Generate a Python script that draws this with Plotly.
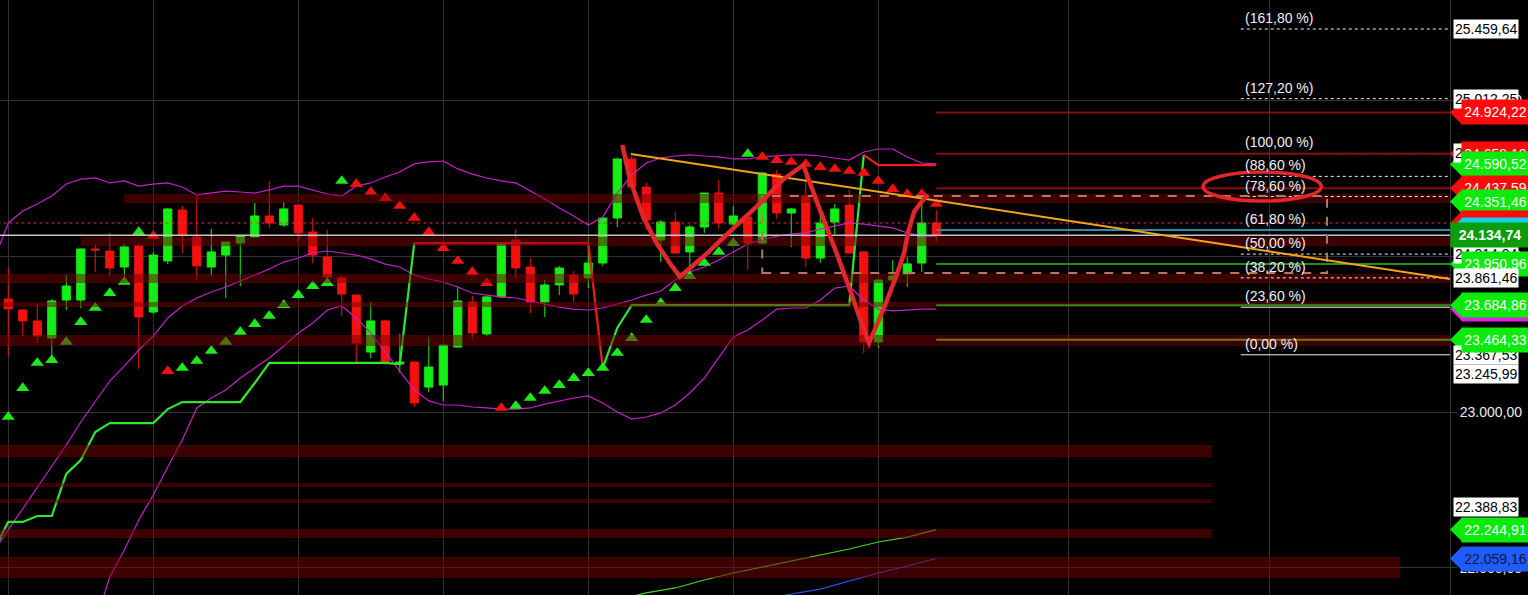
import plotly.graph_objects as go

# ---------------- data ----------------
CANDLE_X = list(range(65))
OPEN = [23726, 23655, 23585, 23475, 23719, 23719, 24047, 24034, 23931, 24066,
        23642, 23970, 24297, 24124, 23931, 24008, 24085, 24124, 24259, 24201,
        24329, 24156, 23995, 23861, 23751, 23385, 23585, 23308, 23321, 23160,
        23173, 23417, 23706, 23501, 23739, 24105, 23931, 23706, 23816, 23880,
        23861, 23957, 24246, 24625, 24445, 24105, 24220, 24028, 24188, 24406,
        24207, 24252, 24085, 24528, 24278, 24387, 23989, 24220, 24329, 24028,
        23450, 23848, 23886, 23957, 24214]
HIGH = [23925, 23660, 23700, 23726, 23880, 24050, 24079, 24150, 24079, 24079,
        24028, 24310, 24323, 24394, 24175, 24092, 24130, 24342, 24484, 24349,
        24335, 24246, 24169, 23873, 23755, 23707, 23590, 23501, 23325, 23482,
        23430, 23803, 23745, 23745, 24085, 24175, 23989, 23848, 23938, 23905,
        24124, 24246, 24631, 24644, 24471, 24233, 24284, 24201, 24406, 24490,
        24323, 24259, 24541, 24554, 24310, 24567, 24297, 24336, 24426, 24034,
        23848, 23976, 23995, 24361, 24297]
LOW = [23360, 23488, 23443, 23334, 23655, 23668, 23899, 23873, 23861, 23276,
       23630, 23950, 24021, 23841, 23873, 23732, 23809, 24124, 24182, 24188,
       24092, 23957, 23848, 23617, 23315, 23347, 23302, 23251, 23032, 23128,
       23071, 23417, 23469, 23488, 23732, 23854, 23636, 23610, 23751, 23706,
       23796, 23938, 24188, 24426, 24169, 23963, 24015, 23925, 24150, 24175,
       24201, 23918, 24079, 24239, 24060, 23931, 23957, 24143, 24015, 23379,
       23411, 23842, 23803, 23899, 24092]
CLOSE = [23662, 23585, 23488, 23713, 23809, 24047, 24040, 23925, 24060, 23610,
         24008, 24304, 24137, 23938, 24028, 24092, 24130, 24259, 24214, 24304,
         24150, 24008, 23867, 23758, 23443, 23585, 23315, 23321, 23058, 23289,
         23430, 23713, 23507, 23739, 24079, 23925, 23706, 23816, 23925, 23758,
         23957, 24246, 24625, 24445, 24233, 24220, 24021, 24188, 24406, 24214,
         24259, 24085, 24535, 24278, 24304, 23989, 24214, 24304, 24021, 23450,
         23848, 23873, 23951, 24214, 24134.74]

# indicator index axis (one bar before the first visible candle)
IND_X = list(range(-1, 65))
BB_UPPER = [23976, 24214, 24291, 24336, 24387, 24464, 24496, 24503, 24471, 24484, 24451,
            24464, 24471, 24445, 24394, 24406, 24419, 24413, 24406, 24426, 24451,
            24451, 24426, 24400, 24387, 24451, 24471, 24509, 24541, 24593, 24606,
            24612, 24561, 24528, 24503, 24484, 24471, 24419, 24368, 24310, 24259,
            24201, 24252, 24406, 24522, 24599, 24631, 24644, 24651, 24644, 24638,
            24625, 24625, 24638, 24644, 24651, 24651, 24644, 24631, 24618, 24670,
            24689, 24689, 24638, 24599, 24593]
BB_MID = [22107, 22242, 22384, 22512, 22653, 22788, 22936, 23064, 23199, 23295, 23398,
          23488, 23604, 23681, 23732, 23771, 23803, 23841, 23880, 23918, 23963,
          23989, 24021, 24034, 24021, 24008, 23983, 23950, 23931, 23880, 23854,
          23835, 23803, 23764, 23751, 23739, 23732, 23713, 23694, 23674, 23661,
          23655, 23668, 23694, 23719, 23751, 23777, 23848, 23899, 23931, 23976,
          24028, 24079, 24105, 24130, 24143, 24150, 24175, 24194, 24214, 24207,
          24194, 24182, 24150, 24130, 24130]
BB_LOW = [20412, 20573, 20752, 20919, 21106, 21279, 21472, 21651, 21940, 22114, 22306,
          22467, 22647, 22820, 23026, 23090, 23141, 23218, 23283, 23347, 23424,
          23507, 23572, 23655, 23681, 23604, 23507, 23385, 23270, 23141, 23071,
          23045, 23045, 23032, 23026, 23019, 23019, 23026, 23051, 23071, 23090,
          23103, 23058, 23000, 22955, 22968, 22994, 23045, 23122, 23218, 23347,
          23482, 23527, 23591, 23661, 23668, 23668, 23719, 23796, 23809, 23719,
          23661, 23649, 23655, 23661, 23661]

# trailing stop line, split by colour
STOP_G1_X = list(range(-1, 29))
STOP_G1 = [22114, 22294, 22294, 22332, 22332, 22602, 22692, 22872, 22929, 22929,
           22929, 22929, 23019, 23064, 23064, 23064, 23064, 23064, 23186, 23315,
           23315, 23315, 23315, 23315, 23315, 23315, 23315, 23315, 23308, 24085]
STOP_R1_X = list(range(28, 42))
STOP_R1 = [24085] * 13 + [23283]
STOP_G2_X = list(range(41, 60))
STOP_G2 = [23283, 23540, 23687, 23687, 23687, 23687, 23687, 23687, 23687, 23687,
           23687, 23687, 23687, 23687, 23687, 23687, 23687, 23687, 24651]
STOP_R2_X = list(range(59, 65))
STOP_R2 = [24651, 24586, 24586, 24586, 24586, 24586]

# parabolic SAR
SAR = [22968, 23154, 23315, 23334, 23450, 23578, 23668, 23764, 23835, 24156,
       24130, 23263, 23283, 23328, 23392, 23450, 23514, 23565, 23617, 23687,
       23751, 23809, 23828, 24484, 24464, 24413, 24374, 24323, 24246, 24156,
       24053, 23970, 23899, 23828, 23026, 23039, 23090, 23135, 23173, 23218,
       23250, 23283, 23379, 23475, 23591, 23700, 23796, 23873, 23957, 24028,
       24085, 24657, 24638, 24618, 24606, 24593, 24573, 24561, 24548, 24535,
       24484, 24432, 24400, 24400, 24336]
SAR_SIDE = "GGGGGGGGGGRRGGGGGGGGGGGGRRRRRRRRRRRGGGGGGGGGGGGGGGGGRRRRRRRRRRRRR"

# long moving averages
MA_G_X = [42, 44, 46, 48, 50, 52, 54, 56, 58, 60, 62, 64]
MA_G = [21793, 21838, 21870, 21921, 21966, 22005, 22043, 22082, 22120, 22165, 22197, 22244.91]
MA_B_X = [52, 54, 56, 58, 60, 62, 64]
MA_B = [21793, 21831, 21863, 21915, 21966, 22011, 22059.16]

# support / resistance zones: (low, high, from index, to index)
ZONES = [(24342, 24400, 8, 100), (24066, 24124, 5, 100), (23828, 23886, -1, 100),
         (23674, 23706, -1, 100), (23424, 23494, -1, 100), (22711, 22788, -1, 83),
         (22518, 22544, -1, 83), (22416, 22441, -1, 83), (22191, 22249, -1, 83),
         (21934, 22069, -1, 96)]

# horizontal levels drawn right of the last bar
LEVELS = [24924.22, 24658.10, 24437.59, 24168.80, 23950.96, 23684.86, 23464.33]
LEVEL_COLORS = ["#8c0d0d", "#8c0d0d", "#8c0d0d", "#2f8ca6", "#1f901f", "#2f8c1c", "#6f7a12"]
LAST_PRICE = 24134.74
RED_DOTTED = 24213.80

# Fibonacci
FIB_LABELS = ["(161,80 %)", "(127,20 %)", "(100,00 %)", "(88,60 %)", "(78,60 %)",
              "(61,80 %)", "(50,00 %)", "(38,20 %)", "(23,60 %)", "(0,00 %)"]
FIB_LEVELS = [25459.64, 25012.25, 24660.55, 24513.15, 24383.84, 24166.62,
              24014.04, 23861.46, 23672.68, 23367.53]
FIB_SOLID = [False, False, False, False, False, False, False, False, True, True]
FIB_START = 85.0

# drawings
TREND_X = [42.94, 99.43]
TREND_Y = [24657, 23854]
BOX = dict(x0=52, x1=90.95, y0=23893, y1=24387)
W_X = [42.35, 42.88, 43.79, 44.72, 45.63, 46.32, 47.93, 50.0, 51.84, 53.4, 54.83,
       55.98, 57.13, 58.05, 58.85, 59.36, 60.34, 61.27, 61.78, 62.07, 62.47, 63.08, 63.43]
W_Y = [24715, 24490, 24254, 24083, 23955, 23869, 23997, 24180, 24340, 24490, 24586,
       24297, 24019, 23783, 23570, 23443, 23655, 23880, 24021, 24158, 24286, 24362, 24394]
OVAL = dict(x0=82.4, x1=90.55, y0=24355, y1=24541)

# right-hand price tags (price, style), in drawing order
TAGS = [(25459.64, "white"), (25012.25, "white"), (24924.22, "red"), (24660.55, "white"),
        (24658.10, "red"), (24590.52, "green"), (24437.59, "red"), (24351.46, "green"),
        (24213.80, "red"), (24168.80, "cyan"), (24014.04, "white"), (24134.74, "last"),
        (23950.96, "green"), (23861.46, "white"), (23661.00, "magenta"), (23684.86, "green"),
        (23367.53, "white"), (23464.33, "green"), (23245.99, "white"), (22388.83, "white"),
        (22244.91, "green"), (22059.16, "blue")]

GRID_X = [0, 10, 20, 30, 40, 50, 60, 73.1, 87]
GRID_Y = [22000, 23000, 24000, 25000]

# ---------------- style ----------------
X_RANGE = [-0.57, 99.43]
Y_RANGE = [21824.8, 25645.9]
FIG_W, FIG_H = 1528, 595
PLOT_W = 1450
FONT = "Liberation Sans, Arial, sans-serif"
UPX = (Y_RANGE[1] - Y_RANGE[0]) / FIG_H  # price units per pixel
GREEN = "#14ee14"
RED = "#f51010"
TAG_COLORS = {"red": ("#ff0a0a", "#ffffff"), "green": ("#0bea0b", "#ffffff"),
              "cyan": ("#16d2ea", "#ffffff"), "magenta": ("#e022e0", "#ffffff"),
              "blue": ("#1e5cff", "#0b1540"), "last": ("#0b9c0b", "#ffffff")}


def fmt(v):
    s = f"{v:,.2f}"
    return s.replace(",", "X").replace(".", ",").replace("X", ".")


fig = go.Figure()

fig.add_trace(go.Candlestick(
    x=CANDLE_X, open=OPEN, high=HIGH, low=LOW, close=CLOSE,
    increasing=dict(line=dict(color=GREEN, width=1), fillcolor=GREEN),
    decreasing=dict(line=dict(color=RED, width=1), fillcolor=RED),
    whiskerwidth=0, hoverinfo="skip"))

for series in (BB_UPPER, BB_MID, BB_LOW):
    fig.add_trace(go.Scatter(x=IND_X, y=series, mode="lines",
                             line=dict(color="#c81ec8", width=1.2), hoverinfo="skip"))

for xs, ys, col in ((STOP_G1_X, STOP_G1, "#2ee82e"), (STOP_R1_X, STOP_R1, "#f01c1c"),
                    (STOP_G2_X, STOP_G2, "#2ee82e"), (STOP_R2_X, STOP_R2, "#f01c1c")):
    fig.add_trace(go.Scatter(x=xs, y=ys, mode="lines", line=dict(color=col, width=2.2),
                             hoverinfo="skip"))

fig.add_trace(go.Scatter(x=MA_G_X, y=MA_G, mode="lines", line=dict(color="#44d42a", width=1.2),
                         hoverinfo="skip"))
fig.add_trace(go.Scatter(x=MA_B_X, y=MA_B, mode="lines", line=dict(color="#3050f0", width=1.2),
                         hoverinfo="skip"))

for side, col in (("G", "#1ee81e"), ("R", "#f01010")):
    xs = [i for i, s in zip(CANDLE_X, SAR_SIDE) if s == side]
    ys = [v for v, s in zip(SAR, SAR_SIDE) if s == side]
    fig.add_trace(go.Scatter(x=xs, y=ys, mode="markers",
                             marker=dict(symbol="triangle-up", size=11.5, color=col,
                                         line=dict(width=0)), hoverinfo="skip"))

shapes = []
# zones (translucent, above the series)
for lo, hi, x0, x1 in ZONES:
    shapes.append(dict(type="rect", xref="x", yref="y", x0=x0, x1=x1, y0=lo, y1=hi,
                       fillcolor="rgba(122,0,0,0.5)", line=dict(width=0), layer="above"))
# fib lines
for lvl, solid in zip(FIB_LEVELS, FIB_SOLID):
    shapes.append(dict(type="line", xref="x", yref="y", x0=FIB_START, x1=X_RANGE[1] + 1,
                       y0=lvl, y1=lvl, layer="above",
                       line=dict(color="#f0f0f0", width=1, dash="solid" if solid else "dot")))
# full width lines
shapes.append(dict(type="line", xref="x", yref="y", x0=X_RANGE[0] - 1, x1=X_RANGE[1] + 1,
                   y0=RED_DOTTED, y1=RED_DOTTED, layer="above",
                   line=dict(color="#d83434", width=1, dash="dot")))
shapes.append(dict(type="line", xref="x", yref="y", x0=X_RANGE[0] - 1, x1=X_RANGE[1] + 1,
                   y0=LAST_PRICE, y1=LAST_PRICE, layer="above",
                   line=dict(color="#c4c4c4", width=1.5)))
# levels right of last bar
for lvl, col in zip(LEVELS, LEVEL_COLORS):
    shapes.append(dict(type="line", xref="x", yref="y", x0=CANDLE_X[-1], x1=X_RANGE[1] + 1,
                       y0=lvl, y1=lvl, layer="above", line=dict(color=col, width=2)))
# dashed box
shapes.append(dict(type="rect", xref="x", yref="y", layer="above", fillcolor="rgba(0,0,0,0)",
                   line=dict(color="#b27a5c", width=2, dash="dash"), **BOX))
# orange trend line
shapes.append(dict(type="line", xref="x", yref="y", x0=TREND_X[0], x1=TREND_X[1],
                   y0=TREND_Y[0], y1=TREND_Y[1], layer="above",
                   line=dict(color="#f4a41c", width=2)))
# hand drawn W and oval
w_path = "M " + " L ".join(f"{x},{y}" for x, y in zip(W_X, W_Y))
shapes.append(dict(type="path", xref="x", yref="y", path=w_path, layer="above",
                   line=dict(color="#e2262a", width=4.5)))
shapes.append(dict(type="circle", xref="x", yref="y", layer="above",
                   line=dict(color="#e2262a", width=3.5), **OVAL))

annotations = []
for lbl, lvl in zip(FIB_LABELS, FIB_LEVELS):
    annotations.append(dict(x=FIB_START + 0.15, y=lvl, xref="x", yref="y", text=lbl,
                            showarrow=False, xanchor="left", yanchor="middle", yshift=11,
                            font=dict(family=FONT, size=14, color="#f0f0f0")))

tip = 1 + 12 / PLOT_W
for price, kind in TAGS:
    if kind == "white":
        annotations.append(dict(x=1, y=price, xref="paper", yref="y", text=fmt(price),
                                showarrow=False, xanchor="left", yanchor="middle", xshift=3,
                                bgcolor="#ffffff", borderpad=1,
                                font=dict(family=FONT, size=14, color="#000000")))
        continue
    bg, fg = TAG_COLORS[kind]
    if kind == "last":
        annotations.append(dict(x=1, y=price, xref="paper", yref="y",
                                text="<b>" + fmt(price) + "</b>", showarrow=False,
                                xanchor="left", yanchor="middle", xshift=0, width=78,
                                height=24, bgcolor=bg, borderpad=0,
                                font=dict(family=FONT, size=14, color=fg)))
        continue
    shapes.append(dict(type="path", xref="paper", yref="y", layer="above",
                       path=f"M 1,{price} L {tip},{price + 12 * UPX} L {tip},{price - 12 * UPX} Z",
                       fillcolor=bg, line=dict(width=0)))
    annotations.append(dict(x=1, y=price, xref="paper", yref="y", text=fmt(price),
                            showarrow=False, xanchor="left", yanchor="middle", xshift=11,
                            width=67, height=24, bgcolor=bg, borderpad=0,
                            font=dict(family=FONT, size=14, color=fg)))

fig.update_layout(
    width=FIG_W, height=FIG_H, margin=dict(l=0, r=FIG_W - PLOT_W, t=0, b=0, pad=0),
    paper_bgcolor="#000000", plot_bgcolor="#000000", showlegend=False,
    separators=",.", boxgap=0.2, hovermode=False,
    shapes=shapes, annotations=annotations,
    xaxis=dict(range=X_RANGE, tickvals=GRID_X, showticklabels=False, showgrid=True,
               gridcolor="#333333", gridwidth=1, zeroline=False, showline=False,
               rangeslider=dict(visible=False), fixedrange=True),
    yaxis=dict(range=Y_RANGE, side="right", tickvals=GRID_Y, tickformat=",.2f",
               showgrid=True, gridcolor="#333333", gridwidth=1, zeroline=False,
               showline=True, linecolor="#333333", ticks="outside", ticklen=6,
               tickcolor="#333333",
               tickfont=dict(family=FONT, size=14, color="#ececec"), fixedrange=True),
)

fig.write_html("out.html", config={"displayModeBar": False},
               post_script="document.body.style.margin='0';document.body.style.overflow='hidden';")
